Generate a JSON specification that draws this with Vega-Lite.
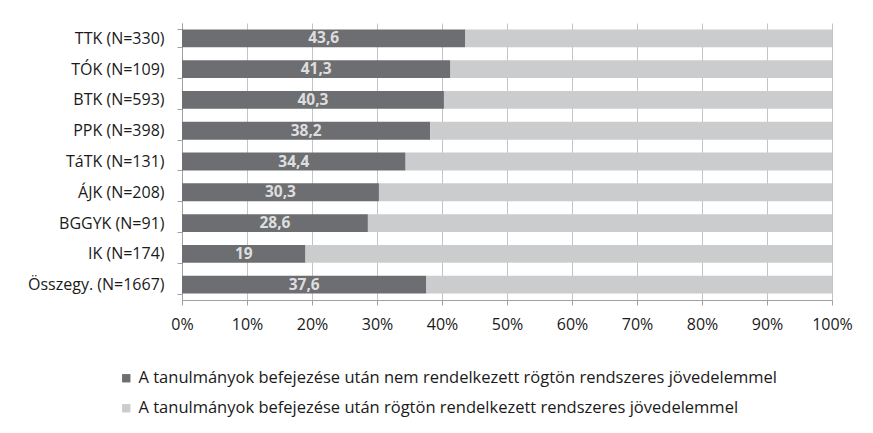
{
  "$schema": "https://vega.github.io/schema/vega-lite/v6.json",
  "width": 650,
  "height": 277,
  "autosize": "none",
  "padding": {"left": 182, "top": 23, "right": 41, "bottom": 133},
  "background": "white",
  "data": {
    "values": [
      {"cat": "TTK (N=330)", "series": "A tanulmányok befejezése után nem rendelkezett rögtön rendszeres jövedelemmel", "ord": 1, "value": 43.6},
      {"cat": "TTK (N=330)", "series": "A tanulmányok befejezése után rögtön rendelkezett rendszeres jövedelemmel", "ord": 2, "value": 56.4},
      {"cat": "TÓK (N=109)", "series": "A tanulmányok befejezése után nem rendelkezett rögtön rendszeres jövedelemmel", "ord": 1, "value": 41.3},
      {"cat": "TÓK (N=109)", "series": "A tanulmányok befejezése után rögtön rendelkezett rendszeres jövedelemmel", "ord": 2, "value": 58.7},
      {"cat": "BTK (N=593)", "series": "A tanulmányok befejezése után nem rendelkezett rögtön rendszeres jövedelemmel", "ord": 1, "value": 40.3},
      {"cat": "BTK (N=593)", "series": "A tanulmányok befejezése után rögtön rendelkezett rendszeres jövedelemmel", "ord": 2, "value": 59.7},
      {"cat": "PPK (N=398)", "series": "A tanulmányok befejezése után nem rendelkezett rögtön rendszeres jövedelemmel", "ord": 1, "value": 38.2},
      {"cat": "PPK (N=398)", "series": "A tanulmányok befejezése után rögtön rendelkezett rendszeres jövedelemmel", "ord": 2, "value": 61.8},
      {"cat": "TáTK (N=131)", "series": "A tanulmányok befejezése után nem rendelkezett rögtön rendszeres jövedelemmel", "ord": 1, "value": 34.4},
      {"cat": "TáTK (N=131)", "series": "A tanulmányok befejezése után rögtön rendelkezett rendszeres jövedelemmel", "ord": 2, "value": 65.6},
      {"cat": "ÁJK (N=208)", "series": "A tanulmányok befejezése után nem rendelkezett rögtön rendszeres jövedelemmel", "ord": 1, "value": 30.3},
      {"cat": "ÁJK (N=208)", "series": "A tanulmányok befejezése után rögtön rendelkezett rendszeres jövedelemmel", "ord": 2, "value": 69.7},
      {"cat": "BGGYK (N=91)", "series": "A tanulmányok befejezése után nem rendelkezett rögtön rendszeres jövedelemmel", "ord": 1, "value": 28.6},
      {"cat": "BGGYK (N=91)", "series": "A tanulmányok befejezése után rögtön rendelkezett rendszeres jövedelemmel", "ord": 2, "value": 71.4},
      {"cat": "IK (N=174)", "series": "A tanulmányok befejezése után nem rendelkezett rögtön rendszeres jövedelemmel", "ord": 1, "value": 19},
      {"cat": "IK (N=174)", "series": "A tanulmányok befejezése után rögtön rendelkezett rendszeres jövedelemmel", "ord": 2, "value": 81},
      {"cat": "Összegy. (N=1667)", "series": "A tanulmányok befejezése után nem rendelkezett rögtön rendszeres jövedelemmel", "ord": 1, "value": 37.6},
      {"cat": "Összegy. (N=1667)", "series": "A tanulmányok befejezése után rögtön rendelkezett rendszeres jövedelemmel", "ord": 2, "value": 62.4}
    ]
  },
  "encoding": {
    "y": {
      "field": "cat",
      "type": "nominal",
      "sort": null,
      "scale": {"paddingInner": 0.42, "paddingOuter": 0.21},
      "axis": {
        "title": null,
        "grid": false,
        "domainColor": "#a0a0a0",
        "tickColor": "#a0a0a0",
        "tickSize": 5,
        "tickBand": "extent",
        "labelPadding": 13,
        "labelFont": "Open Sans",
        "labelFontSize": 16,
        "labelColor": "#1a1a1a"
      }
    }
  },
  "layer": [
    {
      "mark": {"type": "bar"},
      "encoding": {
        "x": {
          "field": "value",
          "type": "quantitative",
          "stack": "zero",
          "scale": {"domain": [0, 100], "nice": false},
          "axis": {
            "title": null,
            "values": [0, 10, 20, 30, 40, 50, 60, 70, 80, 90, 100],
            "labelExpr": "datum.value + '%'",
            "grid": true,
            "gridColor": "#c4c4c4",
            "domainColor": "#a0a0a0",
            "tickColor": "#a0a0a0",
            "tickSize": 5,
            "labelPadding": 11,
            "labelFont": "Open Sans",
            "labelFontSize": 16,
            "labelColor": "#1a1a1a",
            "labelFlush": false
          }
        },
        "color": {
          "field": "series",
          "type": "nominal",
          "scale": {
            "domain": [
              "A tanulmányok befejezése után nem rendelkezett rögtön rendszeres jövedelemmel",
              "A tanulmányok befejezése után rögtön rendelkezett rendszeres jövedelemmel"
            ],
            "range": ["#6d6e71", "#cbcccd"]
          },
          "legend": {
            "title": null,
            "orient": "none",
            "legendX": -64,
            "legendY": 347,
            "direction": "vertical",
            "symbolType": "square",
            "symbolSize": 70,
            "symbolStrokeWidth": 0,
            "labelFont": "Open Sans",
            "labelFontSize": 16.5,
            "labelColor": "#1a1a1a",
            "labelLimit": 900,
            "labelOffset": 4,
            "rowPadding": 13
          }
        },
        "order": {"field": "ord", "type": "quantitative"}
      }
    },
    {
      "transform": [{"filter": "datum.ord == 1"}],
      "mark": {"type": "text", "font": "Open Sans", "fontWeight": "bold", "fontSize": 15.5, "color": "#dedede", "baseline": "middle"},
      "encoding": {
        "x": {"field": "value", "type": "quantitative", "stack": "zero", "bandPosition": 0.5},
        "detail": {"field": "series"},
        "text": {"field": "value", "type": "quantitative", "format": "~g"}
      }
    }
  ],
  "config": {
    "view": {"stroke": null},
    "locale": {"number": {"decimal": ",", "thousands": " ", "grouping": [3], "currency": ["", ""]}}
  }
}
